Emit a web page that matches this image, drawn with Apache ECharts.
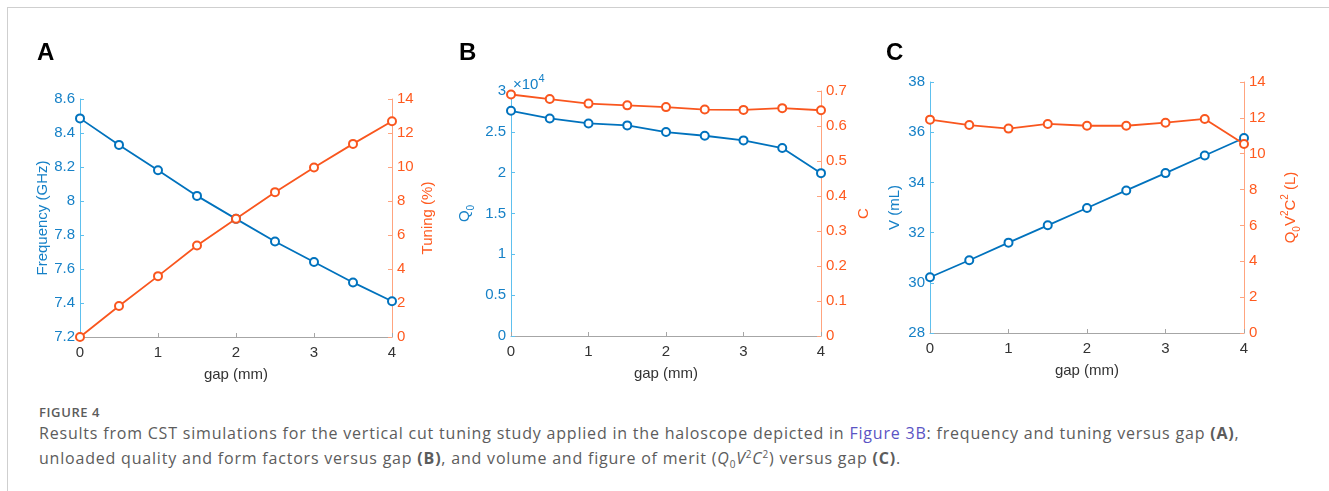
<!DOCTYPE html>
<html>
<head>
<meta charset="utf-8">
<script src="https://cdn.jsdelivr.net/npm/echarts@6/dist/echarts.min.js"></script>
<style>
  html, body { margin: 0; padding: 0; background: #fff; }
  #frame { position: absolute; left: 7px; top: 7px; width: 1322px; height: 484px;
           border-top: 1px solid #cfcfcf; border-left: 1px solid #cfcfcf; }
  #chart { position: absolute; left: 0; top: 0; width: 1329px; height: 400px; }
  #cap { position: absolute; left: 39px; top: 404px; font-family: 'Open Sans', sans-serif;
         color: #5c5c5c; white-space: nowrap; }
  #cap .fig { font-size: 13px; font-weight: 600; line-height: 17px; letter-spacing: 0.6px; }
  #cap .txt { font-size: 16px; line-height: 25px; letter-spacing: 0.8px; }
  #cap .lnk { color: #5a54c4; }
  #cap sub, #cap sup { font-size: 10px; line-height: 0; }
</style>
</head>
<body>
<div id="frame"></div>
<div id="chart"></div>
<div id="cap">
  <div class="fig">FIGURE 4</div>
  <div class="txt">Results from CST simulations for the vertical cut tuning study applied in the haloscope depicted in <span class="lnk">Figure 3B</span>: frequency and tuning versus gap <b>(A)</b>,<br>unloaded quality and form factors versus gap <b>(B)</b>, and volume and figure of merit (<i>Q</i><sub>0</sub><i>V</i><sup>2</sup><i>C</i><sup>2</sup>) versus gap <b>(C)</b>.</div>
</div>
<script>
// gap in mm
const gap = [0, 0.5, 1, 1.5, 2, 2.5, 3, 3.5, 4]
// panel A
const frequency = [8.486, 8.330, 8.181, 8.030, 7.895, 7.762, 7.641, 7.521, 7.410]
const tuning = [0, 1.82, 3.58, 5.38, 6.95, 8.52, 9.97, 11.36, 12.69]
// panel B
const q0 = [27580, 26640, 26030, 25790, 24970, 24520, 23950, 23010, 19940]
const formC = [0.690, 0.677, 0.664, 0.659, 0.654, 0.647, 0.646, 0.651, 0.645]
// panel C
const volume = [30.22, 30.90, 31.60, 32.29, 32.98, 33.68, 34.37, 35.07, 35.77]
const merit = [11.90, 11.60, 11.40, 11.66, 11.56, 11.56, 11.73, 11.94, 10.54]

const BLUE = '#0072BD'
const ORANGE = '#F9561E'
const BLUE_TXT = '#1681C7'
const ORANGE_TXT = '#FF5A1F'
const FONT = 'Liberation Sans'

const chart = echarts.init(document.getElementById('chart'), null, { renderer: 'canvas' })

const grids = [
  { left: 80, top: 99, width: 312, height: 238 },
  { left: 511, top: 91, width: 310, height: 245 },
  { left: 930, top: 82, width: 314, height: 251 }
]

const richName = {
  n: { fontSize: 15, lineHeight: 22, fontFamily: FONT },
  sub: { fontSize: 10, lineHeight: 10, verticalAlign: 'bottom', fontFamily: FONT },
  sup: { fontSize: 10, lineHeight: 10, verticalAlign: 'top', fontFamily: FONT }
}

function xAxis(i) {
  return {
    type: 'value', gridIndex: i, min: 0, max: 4, interval: 1,
    name: 'gap (mm)', nameLocation: 'middle', nameGap: 30,
    nameTextStyle: { fontSize: 15, color: '#333', fontFamily: FONT },
    axisLine: { lineStyle: { color: '#a6a6a6', width: 1 } },
    axisTick: { inside: true, length: 4, lineStyle: { color: '#a6a6a6' } },
    axisLabel: { fontSize: 15, color: '#333', margin: 8, fontFamily: FONT },
    splitLine: { show: false }
  }
}

function yAxis(i, side, min, max, interval, name, gapPx, fmt) {
  const left = side === 'left'
  return {
    type: 'value', gridIndex: i, position: side, min, max, interval,
    name, nameLocation: 'middle', nameRotate: 90, nameGap: gapPx,
    nameTextStyle: { color: left ? BLUE_TXT : ORANGE_TXT, fontSize: 15, fontFamily: FONT, rich: richName },
    axisLine: { show: true, lineStyle: { color: left ? '#5EC0EE' : '#FFA47F', width: 1 } },
    axisTick: { show: true, inside: true, length: 4, lineStyle: { color: left ? '#5EC0EE' : '#FFA47F' } },
    axisLabel: { fontSize: 15, color: left ? BLUE_TXT : ORANGE_TXT, margin: 5, fontFamily: FONT, formatter: fmt },
    splitLine: { show: false }
  }
}

function lineSeries(xi, yi, values, color) {
  return {
    type: 'line', xAxisIndex: xi, yAxisIndex: yi,
    data: gap.map((g, k) => [g, values[k]]),
    symbol: 'emptyCircle', symbolSize: 8,
    lineStyle: { color, width: 1.8 },
    itemStyle: { color, borderWidth: 1.5 },
    clip: false
  }
}

const letter = (x, t) => ({
  type: 'text', left: x, top: 41,
  style: { text: t, font: 'bold 24px "Liberation Sans"', fill: '#000' }
})

chart.setOption({
  animation: false,
  grid: grids.map(g => Object.assign({ outerBoundsMode: 'none' }, g)),
  xAxis: [xAxis(0), xAxis(1), xAxis(2)],
  yAxis: [
    yAxis(0, 'left', 7.2, 8.6, 0.2, 'Frequency (GHz)', 29),
    yAxis(0, 'right', 0, 14, 2, 'Tuning (%)', 28),
    yAxis(1, 'left', 0, 30000, 5000, '{n|Q}{sub|0}', 35, v => String(v / 10000)),
    yAxis(1, 'right', 0, 0.7, 0.1, 'C', 35),
    yAxis(2, 'left', 28, 38, 2, 'V (mL)', 28),
    yAxis(2, 'right', 0, 14, 2, '{n|Q}{sub|0}{n|V}{sup|2}{n|C}{sup|2}{n| (L)}', 36)
  ],
  series: [
    lineSeries(0, 0, frequency, BLUE),
    lineSeries(0, 1, tuning, ORANGE),
    lineSeries(1, 2, q0, BLUE),
    lineSeries(1, 3, formC, ORANGE),
    lineSeries(2, 4, volume, BLUE),
    lineSeries(2, 5, merit, ORANGE)
  ],
  graphic: [
    letter(37, 'A'),
    letter(459, 'B'),
    letter(886, 'C'),
    {
      type: 'text', left: 513, top: 73,
      style: {
        text: '{m|×10}{s|4}',
        rich: {
          m: { fontSize: 15, fill: BLUE_TXT, fontFamily: FONT, lineHeight: 19, verticalAlign: 'bottom' },
          s: { fontSize: 11, fill: BLUE_TXT, fontFamily: FONT, lineHeight: 11, verticalAlign: 'top' }
        }
      }
    }
  ]
})
</script>
</body>
</html>
